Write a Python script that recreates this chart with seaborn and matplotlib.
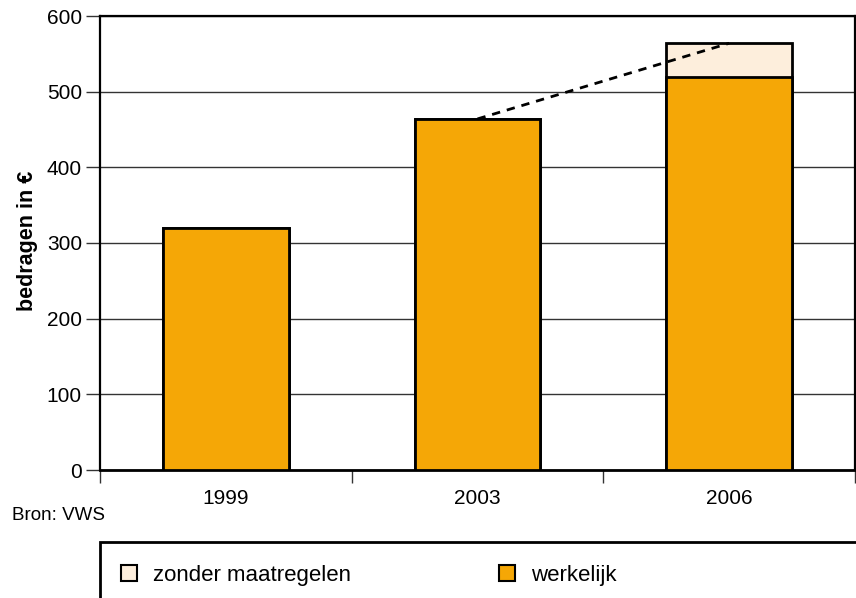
import pandas as pd
import seaborn as sns
import matplotlib
matplotlib.use("Agg")
import matplotlib.pyplot as plt
from matplotlib.patches import Patch, Rectangle
from matplotlib.ticker import FixedLocator

jaren = ["1999", "2003", "2006"]
werkelijk = [320, 464, 519]
zonder_maatregelen = [0, 0, 45]
tick_labels_y = [0, 100, 200, 300, 400, 500, 600]

oranje = "#F5A706"
licht = "#FDEEDC"

sns.set_style("white")
plt.rcParams["font.family"] = ["Liberation Sans", "DejaVu Sans"]
plt.rcParams["text.color"] = "black"
plt.rcParams["xtick.color"] = "black"
plt.rcParams["ytick.color"] = "black"

df = pd.DataFrame({"jaar": jaren, "werkelijk": werkelijk,
                   "zonder": zonder_maatregelen})
df["totaal"] = df["werkelijk"] + df["zonder"]

fig = plt.figure(figsize=(8.56, 5.98), dpi=100)
ax = fig.add_axes([100 / 856, 1 - 470 / 598, 755 / 856, 454 / 598])

sns.barplot(data=df, x="jaar", y="totaal", color=licht, edgecolor="black",
            linewidth=2, width=0.5, saturation=1, ax=ax, zorder=2)
sns.barplot(data=df, x="jaar", y="werkelijk", color=oranje, edgecolor="black",
            linewidth=2, width=0.5, saturation=1, ax=ax, zorder=3)

# stippellijn van 2003 naar 2006 (zonder maatregelen)
ax.plot([1, 2], [df["totaal"][1], df["totaal"][2]], color="black",
        linestyle=(0, (3, 2.5)), linewidth=2, zorder=4)

ax.set_xlim(-0.5, 2.5)
ax.set_ylim(0, 600)
ax.set_yticks(tick_labels_y)
ax.yaxis.grid(True, color="#333333", linewidth=1)
ax.set_axisbelow(True)
ax.set_xlabel("")
ax.set_ylabel("")

for s in ax.spines.values():
    s.set_color("black")
    s.set_linewidth(1.6)
ax.spines["bottom"].set_linewidth(2)

ax.tick_params(axis="y", direction="out", length=10, width=1, pad=3,
               labelsize=15, left=True, color="#333333", labelcolor="black")
ax.tick_params(axis="x", which="major", length=0, pad=14, labelsize=15,
               labelcolor="black")
ax.xaxis.set_minor_locator(FixedLocator([-0.5, 0.5, 1.5, 2.5]))
ax.tick_params(axis="x", which="minor", direction="out", length=9.5,
               width=1, bottom=True, color="#333333")

fig.text(28 / 856, 1 - 241 / 598, "bedragen in €", rotation=90,
         ha="center", va="center", fontsize=15.5, fontweight="bold")
fig.text(12 / 856, 1 - 515 / 598, "Bron: VWS", ha="left", va="center",
         fontsize=13.5)

# legenda-kader
fig.patches.append(Rectangle((100 / 856, -0.2), 0.9, 1 - 542 / 598 + 0.2,
                             transform=fig.transFigure, fill=False,
                             edgecolor="black", linewidth=2, clip_on=False))

items = [("zonder maatregelen", licht, 121), ("werkelijk", oranje, 499)]
for label, kleur, xpos in items:
    fig.legend(handles=[Patch(facecolor=kleur, edgecolor="black",
                              linewidth=1.5, label=label)],
               loc="center left", bbox_to_anchor=(xpos / 856, 1 - 575 / 598),
               frameon=False, fontsize=16, borderpad=0, borderaxespad=0,
               handlelength=0.7, handleheight=0.7, handletextpad=0.75)

fig.savefig("out.png", dpi=100)
